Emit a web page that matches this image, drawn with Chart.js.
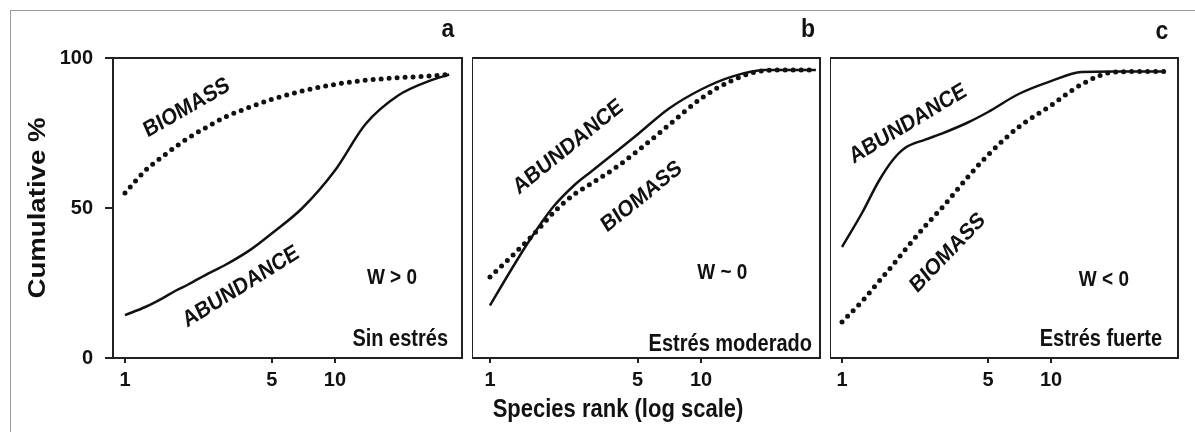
<!DOCTYPE html>
<html>
<head>
<meta charset="utf-8">
<script src="https://cdn.jsdelivr.net/npm/chart.js@4.4.1/dist/chart.umd.min.js"></script>
<style>
  html, body { margin: 0; padding: 0; background: #fff; }
  #page { position: relative; width: 1195px; height: 432px; overflow: hidden; background: #fff; }
  #frame { position: absolute; left: 10px; top: 10px; width: 1200px; height: 440px; border: 1px solid #9a9a9a; }
  canvas { position: absolute; top: 0; }
</style>
</head>
<body>
<div id="page">
  <div id="frame"></div>
  <canvas id="panelA" width="470" height="432" style="left:0px;width:470px;height:432px"></canvas>
  <canvas id="panelB" width="355" height="432" style="left:472px;width:355px;height:432px"></canvas>
  <canvas id="panelC" width="365" height="432" style="left:830px;width:365px;height:432px"></canvas>
</div>
<script>
// species rank (x, log scale) and cumulative %
const RANKS = [1, 1.25, 1.5, 1.75, 2, 2.5, 3, 4, 5, 7, 10, 14, 20, 28, 35];
const X_TICKS = [1, 5, 10];
const Y_TICKS = [0, 50, 100];

// a - Sin estrés
const A_BIOMASS   = [55, 62.5, 67, 70.5, 73.3, 77.3, 80.3, 83.8, 86.2, 89, 91.2, 92.6, 93.4, 94, 94.5];
const A_ABUNDANCE = [14.3, 17, 19.8, 22.5, 24.5, 28.2, 31, 36.3, 41.5, 50, 62.5, 78, 87.5, 92.3, 94.5];
// b - Estrés moderado
const B_BIOMASS   = [27, 33.5, 39, 44, 48.5, 54.5, 58, 63.8, 69, 77.5, 86.5, 92.5, 95.8, 96, 96];
const B_ABUNDANCE = [17.5, 29, 38, 45, 50.5, 57.5, 62, 69, 74.5, 83, 89.5, 93.8, 96, 96, 96];
// c - Estrés fuerte
const C_BIOMASS   = [12, 19, 25.5, 31, 36, 44, 50, 60.3, 67.7, 77, 84.2, 91.2, 95.3, 95.5, 95.5];
const C_ABUNDANCE = [37, 48.5, 59, 66, 70, 72.8, 74.8, 78.5, 82, 88, 92.3, 95.3, 95.5, 95.5, 95.5];

const INK = '#111';
const FONT = '"Liberation Sans", Arial, sans-serif';
const STRETCH = 1.15; // the source figure is slightly stretched vertically

function toPoints(values) {
  return RANKS.map((r, i) => ({ x: r, y: values[i] }));
}

// box around the plot area
const framePlugin = {
  id: 'frame',
  afterDatasetsDraw(chart) {
    const { ctx, chartArea: a } = chart;
    ctx.save();
    ctx.strokeStyle = '#222';
    ctx.lineWidth = 2;
    ctx.strokeRect(a.left, a.top, a.right - a.left, a.bottom - a.top);
    ctx.restore();
  }
};

// free text: curve labels, panel letters, W labels, axis titles
const notesPlugin = {
  id: 'notes',
  afterDraw(chart, args, opts) {
    const ctx = chart.ctx;
    const area = chart.chartArea;
    const xs = chart.scales.x, ys = chart.scales.y;
    (opts.items || []).forEach(n => {
      let px, py;
      if (n.at === 'data') {
        px = xs.getPixelForValue(n.x);
        py = ys.getPixelForValue(n.y);
      } else if (n.at === 'top') {
        px = area.right + n.x; py = area.top + n.y;
      } else if (n.at === 'bottom') {
        px = area.right + n.x; py = area.bottom + n.y;
      } else {
        px = n.x; py = n.y;
      }
      const t = (n.angle || 0) * Math.PI / 180;
      ctx.save();
      ctx.translate(px, py);
      ctx.scale(1, STRETCH);
      ctx.rotate(Math.atan2(Math.sin(t) / STRETCH, Math.cos(t)));
      ctx.font = n.font;
      ctx.fillStyle = INK;
      ctx.textAlign = n.align || 'center';
      ctx.textBaseline = 'middle';
      ctx.fillText(n.text, 0, 0);
      ctx.restore();
    });
  }
};

function makePanel(id, cfg) {
  const ctx = document.getElementById(id).getContext('2d');
  return new Chart(ctx, {
    type: 'line',
    data: {
      datasets: [
        {
          label: 'BIOMASS',
          data: toPoints(cfg.biomass),
          borderColor: INK,
          borderWidth: 5,
          borderDash: [0, 8],
          borderCapStyle: 'round',
          pointRadius: 0,
          cubicInterpolationMode: 'monotone',
          fill: false
        },
        {
          label: 'ABUNDANCE',
          data: toPoints(cfg.abundance),
          borderColor: INK,
          borderWidth: 2.5,
          pointRadius: 0,
          cubicInterpolationMode: 'monotone',
          fill: false
        }
      ]
    },
    options: {
      responsive: false,
      animation: false,
      layout: { padding: { left: 0, right: cfg.padRight, top: 58, bottom: 34 } },
      plugins: {
        legend: { display: false },
        tooltip: { enabled: false },
        notes: { items: cfg.notes }
      },
      scales: {
        x: {
          type: 'logarithmic',
          min: cfg.xMin,
          max: cfg.xMax,
          afterBuildTicks: s => { s.ticks = X_TICKS.map(v => ({ value: v })); },
          afterFit: s => { s.height = 40; },
          border: { display: false },
          grid: { drawOnChartArea: false, drawTicks: true, tickLength: 5, color: '#222', lineWidth: 2 },
          ticks: {
            callback: v => String(v),
            autoSkip: false,
            maxRotation: 0,
            padding: 5,
            color: INK,
            font: { family: FONT, size: 20, weight: 'bold' }
          }
        },
        y: {
          display: cfg.showY,
          min: 0,
          max: 100,
          afterBuildTicks: s => { s.ticks = Y_TICKS.map(v => ({ value: v })); },
          afterFit: s => { s.width = cfg.showY ? 113 : 0; },
          border: { display: false },
          grid: { drawOnChartArea: false, drawTicks: true, tickLength: 8, color: '#222', lineWidth: 2 },
          ticks: {
            padding: 12,
            color: INK,
            font: { family: FONT, size: 20, weight: 'bold' }
          }
        }
      }
    },
    plugins: [framePlugin, notesPlugin]
  });
}

const bold = s => 'bold ' + s + 'px ' + FONT;

makePanel('panelA', {
  biomass: A_BIOMASS, abundance: A_ABUNDANCE,
  xMin: 0.877, xMax: 40.3, padRight: 8, showY: true,
  notes: [
    { at: 'canvas', x: 38, y: 208, angle: -90, text: 'Cumulative %', font: bold(24) },
    { at: 'top', x: -14, y: -28, text: 'a', font: bold(23) },
    { at: 'data', x: 1.97, y: 83.3, angle: -30, text: 'BIOMASS', font: bold(20) },
    { at: 'data', x: 3.57, y: 23.7, angle: -32, text: 'ABUNDANCE', font: bold(20) },
    { at: 'data', x: 18.7, y: 26.7, text: 'W > 0', font: bold(19) },
    { at: 'bottom', x: -14, y: -18, align: 'right', text: 'Sin estrés', font: bold(20) }
  ]
});

makePanel('panelB', {
  biomass: B_BIOMASS, abundance: B_ABUNDANCE,
  xMin: 0.822, xMax: 36.6, padRight: 7, showY: false,
  notes: [
    { at: 'top', x: -12, y: -28, text: 'b', font: bold(23) },
    { at: 'data', x: 2.35, y: 70.3, angle: -39, text: 'ABUNDANCE', font: bold(20) },
    { at: 'data', x: 5.24, y: 53.7, angle: -39, text: 'BIOMASS', font: bold(20) },
    { at: 'data', x: 12.6, y: 28.3, text: 'W ~ 0', font: bold(19) },
    { at: 'bottom', x: -8, y: -13, align: 'right', text: 'Estrés moderado', font: bold(20) },
    { at: 'canvas', x: 146, y: 410, text: 'Species rank (log scale)', font: bold(22) }
  ]
});

makePanel('panelC', {
  biomass: C_BIOMASS, abundance: C_ABUNDANCE,
  xMin: 0.876, xMax: 40.5, padRight: 17, showY: false,
  notes: [
    { at: 'top', x: -16, y: -26, text: 'c', font: bold(23) },
    { at: 'data', x: 2.07, y: 78, angle: -31, text: 'ABUNDANCE', font: bold(20) },
    { at: 'data', x: 3.21, y: 35, angle: -46, text: 'BIOMASS', font: bold(20) },
    { at: 'data', x: 17.9, y: 26, text: 'W < 0', font: bold(19) },
    { at: 'bottom', x: -16, y: -18, align: 'right', text: 'Estrés fuerte', font: bold(20) }
  ]
});
</script>
</body>
</html>
